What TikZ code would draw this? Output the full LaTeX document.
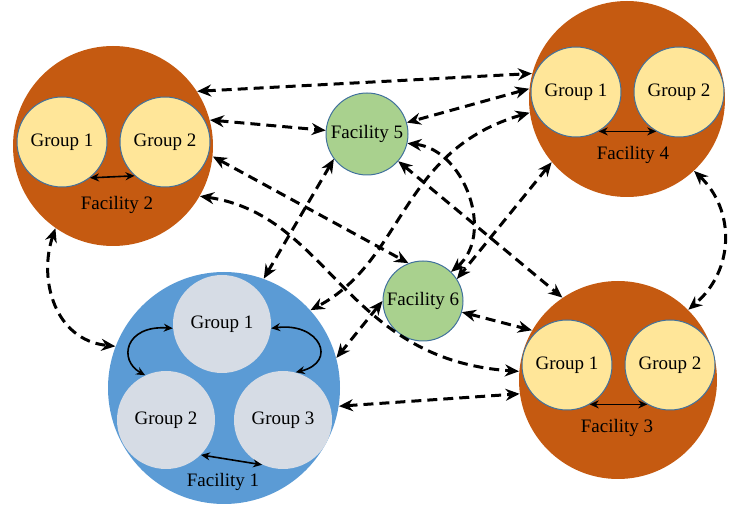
\documentclass[tikz,border=0pt]{standalone}
\usepackage{fontspec}
\setmainfont{Liberation Serif}
\usetikzlibrary{arrows.meta}
\definecolor{rust}{HTML}{C55A11}
\definecolor{sand}{HTML}{FFE699}
\definecolor{sky}{HTML}{5B9BD5}
\definecolor{mist}{HTML}{D6DCE5}
\definecolor{leaf}{HTML}{A9D18E}
\definecolor{rim}{HTML}{41719C}
\tikzset{textSize/.style={font=\fontsize{9.5}{11}\selectfont}}
\tikzset{facilityOrange/.style={circle, fill=rust, draw=none, inner sep=0pt}}
\tikzset{facilityBlue/.style={circle, fill=sky, draw=none, inner sep=0pt}}
\tikzset{facilityGreen/.style={circle, fill=leaf, draw=rim, line width=0.5pt, inner sep=0pt, minimum size=41pt, textSize}}
\tikzset{groupYellow/.style={circle, fill=sand, draw=rim, line width=0.5pt, inner sep=0pt, minimum size=45pt, textSize}}
\tikzset{groupGrey/.style={circle, fill=mist, draw=none, inner sep=0pt, minimum size=49pt, textSize}}
\tikzset{facilityName/.style={inner sep=0pt, textSize}}
\tikzset{link/.style={<->, >={Stealth[length=7pt,width=6pt]}, line width=1.5pt, dash pattern=on 5pt off 3pt}}
\tikzset{inner/.style={<->, >={Stealth[length=4.5pt,width=4pt]}, line width=0.8pt}}

\begin{document}
\begin{tikzpicture}[x=0.5pt,y=-0.5pt]
\useasboundingbox (0,0) rectangle (730,508);
% facilities
\node[facilityOrange,minimum size=100pt] (f2) at (113,146) {};
\node[facilityOrange,minimum size=98pt] (f4) at (627,99) {};
\node[facilityOrange,minimum size=99pt] (f3) at (618,380) {};
\node[facilityBlue,minimum size=116pt] (f1) at (224,388) {};
\node[facilityGreen] (f5) at (367,134) {Facility 5};
\node[facilityGreen,minimum size=40pt] (f6) at (423,301) {Facility 6};
%
% groups
\node[groupYellow] (f2g1) at (62,142) {Group 1};
\node[groupYellow] (f2g2) at (165,142) {Group 2};
\node[groupYellow] (f4g1) at (576,92) {Group 1};
\node[groupYellow] (f4g2) at (679,92) {Group 2};
\node[groupYellow] (f3g1) at (567,365) {Group 1};
\node[groupYellow] (f3g2) at (670,365) {Group 2};
\node[groupGrey] (f1g1) at (222,324) {Group 1};
\node[groupGrey] (f1g2) at (166,420) {Group 2};
\node[groupGrey] (f1g3) at (283,420) {Group 3};
%
% names
\node[facilityName] (f2name) at (117,205) {Facility 2};
\node[facilityName] (f4name) at (633,155) {Facility 4};
\node[facilityName] (f3name) at (617,428) {Facility 3};
\node[facilityName] (f1name) at (223,482) {Facility 1};
%
% links inside a facility
\draw[inner] (f2g1.-52) -- (f2g2.-132);
\draw[inner] (f4g1.-60) -- (f4g2.-120);
\draw[inner] (f3g1.-60) -- (f3g2.-120);
\draw[inner] (f1g1.185) .. controls (125,325) and (118,360) .. (f1g2.115);
\draw[inner] (f1g1.-5) .. controls (320,322) and (338,362) .. (f1g3.75);
\draw[inner] (f1g2.-45) -- (f1g3.-115);
%
% links between facilities
\draw[link] (f2.33) -- (f4.165);
\draw[link] (f2.15) -- (f5.175);
\draw[link] (f2.-6) -- (f6.111);
\draw[link] (f2.-30) .. controls (330,215) and (345,360) .. (f3.175);
\draw[link] (f2.235) .. controls (38,280) and (55,340) .. (f1.159);
\draw[link] (f4.174) -- (f5.16);
\draw[link] (f4.188) .. controls (400,150) and (405,260) .. (f1.42);
\draw[link] (f5.217) -- (f1.70);
\draw[link] (f5.-13) .. controls (465,150) and (495,235) .. (f6.46);
\draw[link] (f5.-41) -- (f3.124);
\draw[link] (f4.220) -- (f6.33);
\draw[link] (f4.-47) .. controls (735,210) and (735,270) .. (f3.45);
\draw[link] (f6.-16) -- (f3.150);
\draw[link] (f1.-9) -- (f3.188);
\draw[link] (f6.180) -- (f1.15);
\end{tikzpicture}
\end{document}
